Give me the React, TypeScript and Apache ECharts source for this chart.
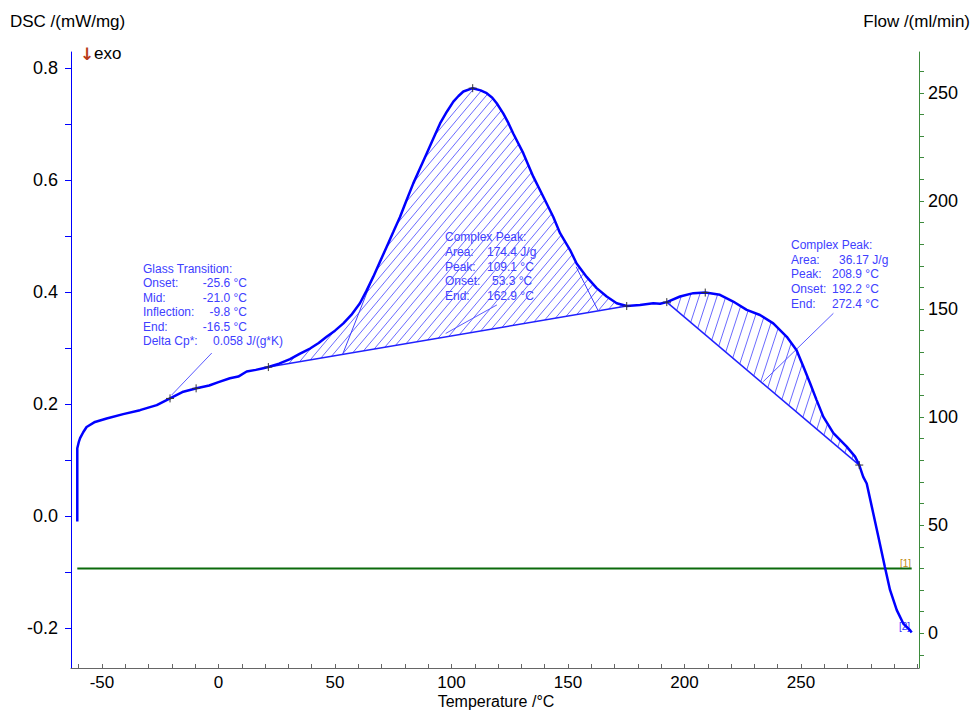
import React, { useEffect, useRef } from 'react';
import * as echarts from 'echarts';

// ---- DSC curve (temperature °C, DSC mW/mg) ----
const temperature = [
  -60.6, -60.6, -59.9, -59.4, -58.0, -56.6, -53.0, -48.0, -40.9, -33.7, -26.5, -20.8, -15.1, -9.4, -4.0, 0.0,
  4.9, 8.5, 12.1, 16.0, 19.2, 21.4, 26.0, 30.7, 35.0, 39.3, 43.0, 46.4, 50.0, 53.6, 57.0, 60.7, 63.5, 66.4,
  69.3, 72.2, 75.0, 77.9, 80.7, 83.6, 86.5, 89.4, 92.3, 95.1, 98.0, 100.8, 103.0, 105.1, 109.1, 112.5, 115.1,
  117.5, 119.4, 122.2, 124.5, 126.5, 130.8, 135.1, 139.4, 143.7, 146.6, 150.9, 153.7, 158.0, 162.3, 166.6,
  170.9, 175.2, 180.9, 186.6, 189.5, 192.4, 198.1, 203.8, 209.0, 215.2, 220.9, 226.7, 232.4, 238.1, 243.9,
  248.1, 251.0, 253.9, 256.7, 259.6, 263.9, 269.6, 273.2, 275.0, 276.7, 278.2, 281.0, 283.2, 286.0, 288.2,
  291.1, 293.9, 296.8, 297.5,
];
const dsc = [
  -0.010, 0.121, 0.133, 0.139, 0.150, 0.159, 0.168, 0.174, 0.182, 0.189, 0.198, 0.210, 0.222, 0.228, 0.233, 0.239,
  0.246, 0.249, 0.258, 0.261, 0.264, 0.266, 0.272, 0.280, 0.290, 0.299, 0.309, 0.320, 0.331, 0.344, 0.359, 0.380, 0.402, 0.427,
  0.454, 0.481, 0.507, 0.534, 0.564, 0.594, 0.621, 0.648, 0.675, 0.701, 0.722, 0.740, 0.750, 0.758, 0.764, 0.760, 0.755,
  0.747, 0.737, 0.719, 0.701, 0.683, 0.648, 0.606, 0.570, 0.534, 0.505, 0.475, 0.451, 0.427, 0.407, 0.392,
  0.380, 0.375, 0.377, 0.380, 0.379, 0.382, 0.392, 0.398, 0.399, 0.395, 0.383, 0.368, 0.359, 0.344, 0.320,
  0.296, 0.267, 0.237, 0.207, 0.177, 0.148, 0.124, 0.106, 0.091, 0.070, 0.058, 0.005, -0.037, -0.091, -0.132,
  -0.168, -0.192, -0.204, -0.208,
];

// ---- Flow (ml/min) ----
const flowT = [-60.6, 297.5];
const flowV = [30, 30];

// ---- evaluation constructions ----
const peak1Base = [[21.4, 0.266], [175.2, 0.375]];
const peak2Base = [[192.4, 0.382], [275.0, 0.091]];
const onsetTangent1 = [[53.3, 0.289], [65.5, 0.418]];
const endTangent1 = [[153.5, 0.445], [162.9, 0.367]];
const gtLeader = [[-2.9, 0.291], [-20.1, 0.216]];
const p1Leader = [[119.5, 0.377], [97.5, 0.326]];
const p2Leader = [[263.9, 0.362], [233.8, 0.240]];
const markers = [
  [-20.8, 0.210], [-9.6, 0.228], [21.4, 0.266], [109.1, 0.764], [175.2, 0.375],
  [192.4, 0.382], [208.9, 0.399], [275.0, 0.091],
];

// ---- ticks ----
const xTicks = [-60, -50, -40, -30, -20, -10, 0, 10, 20, 30, 40, 50, 60, 70, 80, 90, 100, 110, 120, 130, 140, 150,
  160, 170, 180, 190, 200, 210, 220, 230, 240, 250, 260, 270, 280, 290, 300];
const xLabels = [-50, 0, 50, 100, 150, 200, 250];
const yTicks = [-0.2, -0.1, 0, 0.1, 0.2, 0.3, 0.4, 0.5, 0.6, 0.7, 0.8];
const yLabels = [-0.2, 0, 0.2, 0.4, 0.6, 0.8];
const y2Ticks = [-10, 0, 10, 20, 30, 40, 50, 60, 70, 80, 90, 100, 110, 120, 130, 140, 150, 160, 170, 180, 190,
  200, 210, 220, 230, 240, 250, 260];
const y2Labels = [0, 50, 100, 150, 200, 250];

// ---- annotation texts ----
const gtTitle = 'Glass Transition:';
const gtKeys = ['Onset:', 'Mid:', 'Inflection:', 'End:', 'Delta Cp*:'];
const gtVals = ['-25.6 °C', '-21.0 °C', '-9.8 °C', '-16.5 °C', '0.058 J/(g*K)'];
const p1Title = 'Complex Peak:';
const p1Keys = ['Area:', 'Peak:', 'Onset:', 'End:'];
const p1Vals = ['174.4 J/g', '109.1 °C', '53.3 °C', '162.9 °C'];
const p2Title = 'Complex Peak:';
const p2Keys = ['Area:', 'Peak:', 'Onset:', 'End:'];
const p2Vals = ['36.17 J/g', '208.9 °C', '192.2 °C', '272.4 °C'];

const FONT = '"Liberation Sans", Arial, sans-serif';
const ANN = '#4040ff';

function hatchSegments(pts: number[][], angleDeg: number, spacing: number) {
  const a = (angleDeg * Math.PI) / 180;
  const d = [Math.cos(a), -Math.sin(a)];
  const n = [Math.sin(a), Math.cos(a)];
  const sv = pts.map((p) => p[0] * n[0] + p[1] * n[1]);
  const smin = Math.min(...sv);
  const smax = Math.max(...sv);
  const segs: number[][] = [];
  for (let s = Math.ceil(smin / spacing) * spacing; s <= smax; s += spacing) {
    const us: number[] = [];
    for (let i = 0; i < pts.length; i++) {
      const j = (i + 1) % pts.length;
      const sa = sv[i];
      const sb = sv[j];
      if ((sa <= s && sb > s) || (sb <= s && sa > s)) {
        const t = (s - sa) / (sb - sa);
        const x = pts[i][0] + t * (pts[j][0] - pts[i][0]);
        const y = pts[i][1] + t * (pts[j][1] - pts[i][1]);
        us.push(x * d[0] + y * d[1]);
      }
    }
    us.sort((p, q) => p - q);
    for (let k = 0; k + 1 < us.length; k += 2) {
      segs.push([
        s * n[0] + us[k] * d[0], s * n[1] + us[k] * d[1],
        s * n[0] + us[k + 1] * d[0], s * n[1] + us[k + 1] * d[1],
      ]);
    }
  }
  return segs;
}

function hatchSeries(base: number[][], angle: number, spacing: number) {
  const poly: number[][] = [[base[0][0], base[0][1]]];
  temperature.forEach((t, i) => {
    if (t > base[0][0] && t < base[1][0]) poly.push([t, dsc[i]]);
  });
  poly.push([base[1][0], base[1][1]]);
  return {
    type: 'custom',
    coordinateSystem: 'cartesian2d',
    xAxisIndex: 0,
    yAxisIndex: 0,
    silent: true,
    z: 1,
    data: [[base[0][0], base[0][1]]],
    renderItem: (_params: any, api: any) => {
      const pts = poly.map((p) => api.coord(p));
      const segs = hatchSegments(pts, angle, spacing);
      return {
        type: 'group',
        children: segs.map((s) => ({
          type: 'line',
          shape: { x1: s[0], y1: s[1], x2: s[2], y2: s[3] },
          style: { stroke: '#5050ff', lineWidth: 1, opacity: 0.85 },
        })),
      };
    },
  };
}

function segLine(pts: number[][], color: string, width: number) {
  return {
    type: 'line',
    data: pts,
    xAxisIndex: 0,
    yAxisIndex: 0,
    showSymbol: false,
    symbol: 'none',
    silent: true,
    z: 2,
    lineStyle: { color, width },
  };
}

function textBlock(title: string, keys: string[], vals: string[], x: number, y0: number, dy: number, valX: number[], align: string[]) {
  const els: any[] = [];
  els.push({ type: 'text', x, y: y0, style: { text: title, fill: ANN, font: `12px ${FONT}`, textVerticalAlign: 'middle' } });
  keys.forEach((k, i) => {
    const y = y0 + dy * (i + 1);
    els.push({ type: 'text', x, y, style: { text: k, fill: ANN, font: `12px ${FONT}`, textVerticalAlign: 'middle' } });
    els.push({
      type: 'text', x: valX[i], y,
      style: { text: vals[i], fill: ANN, font: `12px ${FONT}`, textVerticalAlign: 'middle', textAlign: align[i] },
    });
  });
  return els;
}

export default function App() {
  const ref = useRef<HTMLDivElement>(null);
  useEffect(() => {
    const chart = echarts.init(ref.current!, null, { renderer: 'svg' });
    const curve = temperature.map((t, i) => [t, dsc[i]]);
    const flow = flowT.map((t, i) => [t, flowV[i]]);
    const axisLabelBase = { fontSize: 18, color: '#000', fontFamily: FONT };

    const option: any = {
      animation: false,
      backgroundColor: '#fff',
      grid: { left: 71, right: 55, top: 52, bottom: 42, containLabel: false },
      xAxis: {
        type: 'value',
        min: -63.3,
        max: 300.64,
        axisLine: { show: true, onZero: false, lineStyle: { color: '#666', width: 1 } },
        axisTick: { show: true, inside: true, length: 4, customValues: xTicks, lineStyle: { color: '#666' } },
        axisLabel: { ...axisLabelBase, fontSize: 17, margin: 6, customValues: xLabels },
        splitLine: { show: false },
      },
      yAxis: [
        {
          type: 'value',
          position: 'left',
          min: -0.2714,
          max: 0.8286,
          axisLine: { show: true, onZero: false, lineStyle: { color: '#0000ff', width: 1 } },
          axisTick: { show: true, inside: false, length: 6, customValues: yTicks, lineStyle: { color: '#0000ff' } },
          axisLabel: { ...axisLabelBase, margin: 13, customValues: yLabels, formatter: (v: number) => v.toFixed(1) },
          splitLine: { show: false },
        },
        {
          type: 'value',
          position: 'right',
          min: -16.05,
          max: 268.9,
          axisLine: { show: true, onZero: false, lineStyle: { color: '#3d8b3d', width: 1 } },
          axisTick: { show: true, inside: false, length: 5, customValues: y2Ticks, lineStyle: { color: '#3d8b3d' } },
          axisLabel: { ...axisLabelBase, margin: 9, customValues: y2Labels },
          splitLine: { show: false },
        },
      ],
      series: [
        hatchSeries(peak1Base, 50, 7),
        hatchSeries(peak2Base, 72, 8.5),
        segLine(peak1Base, '#2020ff', 1.5),
        segLine(peak2Base, '#2020ff', 1.5),
        segLine(onsetTangent1, '#4040ff', 1),
        segLine(endTangent1, '#4040ff', 1),
        segLine(gtLeader, '#5a5aff', 1),
        segLine(p1Leader, '#5a5aff', 1),
        segLine(p2Leader, '#5a5aff', 1),
        {
          type: 'line',
          data: flow,
          xAxisIndex: 0,
          yAxisIndex: 1,
          showSymbol: false,
          symbol: 'none',
          silent: true,
          z: 3,
          lineStyle: { color: '#0b6a0b', width: 2 },
        },
        {
          type: 'line',
          data: curve,
          xAxisIndex: 0,
          yAxisIndex: 0,
          showSymbol: false,
          symbol: 'none',
          silent: true,
          z: 4,
          lineStyle: { color: '#0000ff', width: 2.5 },
        },
        {
          type: 'custom',
          coordinateSystem: 'cartesian2d',
          xAxisIndex: 0,
          yAxisIndex: 0,
          silent: true,
          z: 5,
          data: markers,
          renderItem: (_p: any, api: any) => {
            const c = api.coord([api.value(0), api.value(1)]);
            const st = { stroke: '#333', lineWidth: 1 };
            return {
              type: 'group',
              children: [
                { type: 'line', shape: { x1: c[0] - 4, y1: c[1], x2: c[0] + 4, y2: c[1] }, style: st },
                { type: 'line', shape: { x1: c[0], y1: c[1] - 4, x2: c[0], y2: c[1] + 4 }, style: st },
              ],
            };
          },
        },
      ],
      graphic: [
        { type: 'text', x: 10, y: 21, style: { text: 'DSC /(mW/mg)', fill: '#000', font: `17px ${FONT}`, textVerticalAlign: 'middle' } },
        { type: 'text', x: 970, y: 21, style: { text: 'Flow /(ml/min)', fill: '#000', font: `17px ${FONT}`, textAlign: 'right', textVerticalAlign: 'middle' } },
        { type: 'text', x: 496, y: 701, style: { text: 'Temperature /°C', fill: '#000', font: `16px ${FONT}`, textAlign: 'center', textVerticalAlign: 'middle' } },
        { type: 'text', x: 80, y: 54, style: { text: '↓', fill: '#b83a18', font: `bold 17px "DejaVu Sans", sans-serif`, textVerticalAlign: 'middle' } },
        { type: 'text', x: 94, y: 53, style: { text: 'exo', fill: '#000', font: `17px ${FONT}`, textVerticalAlign: 'middle' } },
        { type: 'text', x: 900, y: 563, style: { text: '[1]', fill: '#c08a10', font: `10px ${FONT}`, textVerticalAlign: 'middle' } },
        { type: 'text', x: 899, y: 626, style: { text: '[2]', fill: '#3030ff', font: `10px ${FONT}`, textVerticalAlign: 'middle' } },
        ...textBlock(gtTitle, gtKeys, gtVals, 143, 269, 14.4, [247, 247, 247, 247, 213], ['right', 'right', 'right', 'right', 'left']),
        ...textBlock(p1Title, p1Keys, p1Vals, 445, 237, 14.8, [487, 487, 492, 487], ['left', 'left', 'left', 'left']),
        ...textBlock(p2Title, p2Keys, p2Vals, 791, 245, 14.7, [839, 832, 832, 832], ['left', 'left', 'left', 'left']),
      ],
    };
    chart.setOption(option);
    return () => chart.dispose();
  }, []);
  return (
    <div
      ref={ref}
      style={{ position: 'fixed', left: 0, top: 0, width: 974, height: 710, background: '#fff' }}
    />
  );
}
